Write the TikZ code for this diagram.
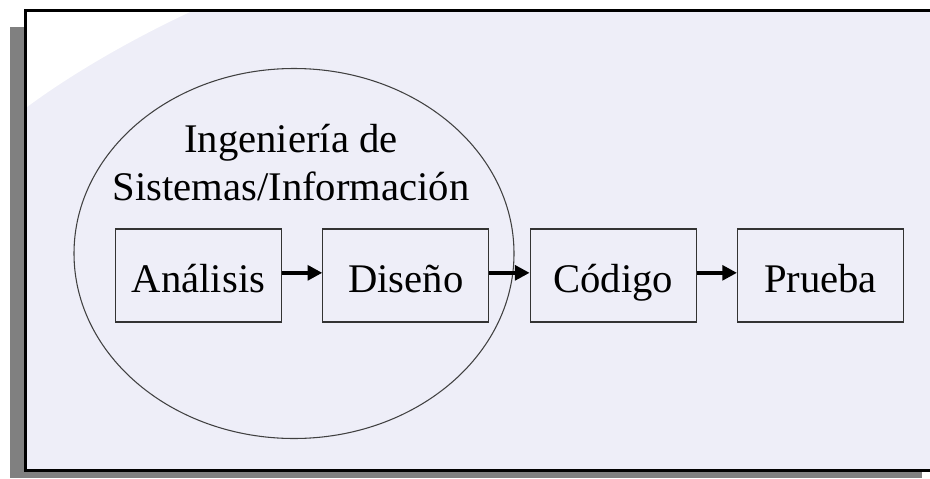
\documentclass[tikz,border=0pt]{standalone}
\usepackage{fontspec}
\setmainfont{Liberation Serif}
\usetikzlibrary{arrows.meta,positioning}
\definecolor{fondo}{RGB}{238,238,248}
\definecolor{sombra}{RGB}{128,128,128}

\tikzset{
  etapa/.style={draw=black!80, line width=0.8pt, minimum width=124.5pt,
    minimum height=69.75pt, inner sep=0pt, text height=24.8pt, text depth=0pt,
    font=\fontsize{30.5}{36}\selectfont},
  flecha/.style={-{Triangle[length=11pt,width=11pt]}, line width=3pt},
}

\begin{document}
\begin{tikzpicture}[x=0.75pt, y=-0.75pt, node distance=30.2pt]
\useasboundingbox (0,0) rectangle (930,478);

\coordinate (cMarcoTR) at (930, 11);
\coordinate (cMarcoTL) at (25.5, 11);
\coordinate (cMarcoBL) at (25.5, 470.5);
\coordinate (cMarcoBR) at (930, 470.5);
\coordinate (cElipse) at (294, 253.5);

% sombra, fondo y marco
\fill[sombra] (10,27) rectangle (24,478);
\fill[sombra] (10,472) rectangle (922,478);
\fill[fondo] (27,12) rectangle (930,469);
\fill[white] (27,12) -- (190,12) .. controls (130,40) and (70,75) .. (27,107) -- cycle;
\draw[line width=2.25pt] (cMarcoTR) -- (cMarcoTL) -- (cMarcoBL) -- (cMarcoBR);

\draw[black!75, line width=0.8pt] (cElipse) ellipse [x radius=220, y radius=185];
\node[anchor=base, align=center, inner sep=0pt,
      font=\fontsize{30.5}{36}\selectfont] (titulo) at (291,200)
  {Ingeniería de\\Sistemas/Información};

\node[etapa] (analisis) at (198.5, 275.5) {Análisis};
\node[etapa, right=of analisis] (diseno) {Diseño};
\node[etapa, right=of diseno] (codigo) {Código};
\node[etapa, right=of codigo] (prueba) {Prueba};

\foreach \a/\b in
{   analisis/diseno,
    diseno/codigo,
    codigo/prueba%
}
{
    \draw[flecha] ([yshift=2pt]\a.east) -- ([yshift=2pt]\b.west);
};

\end{tikzpicture}
\end{document}
